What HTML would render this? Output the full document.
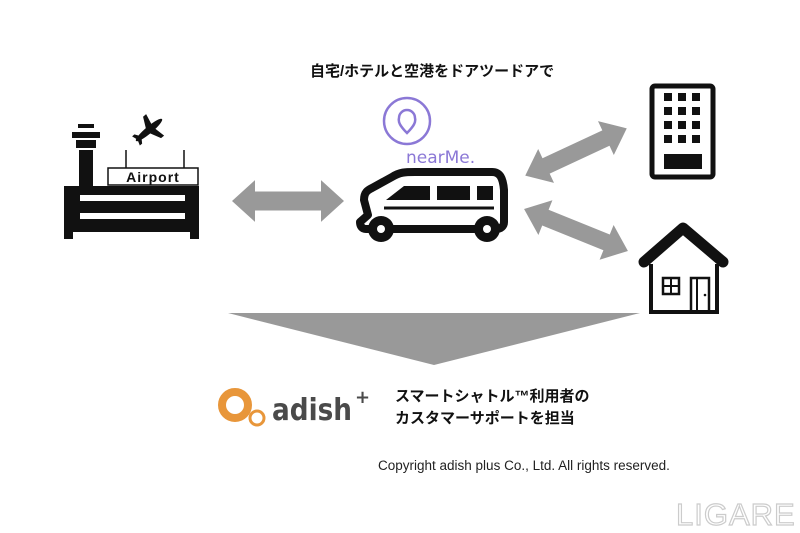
<!DOCTYPE html>
<html><head><meta charset="utf-8"><style>
html,body{margin:0;padding:0;background:#fff;}
body{width:800px;height:533px;position:relative;overflow:hidden;font-family:"Liberation Sans","Noto Sans CJK JP",sans-serif;}
.t{position:absolute;white-space:nowrap;}
</style></head><body>
<svg width="800" height="533" style="position:absolute;left:0;top:0">
<defs>
<path id="da" d="M-56,0 L-33,-22 L-33,-10 L33,-10 L33,-22 L56,0 L33,22 L33,10 L-33,10 L-33,22 Z" fill="#999"/>
</defs>
<!-- airport -->
<rect x="78" y="124" width="16" height="4" fill="#111"/>
<rect x="72" y="132" width="28" height="6" fill="#111"/>
<rect x="76" y="140" width="20" height="8" fill="#111"/>
<rect x="79" y="150" width="14" height="40" fill="#111"/>
<rect x="64" y="186" width="135" height="46" fill="#111"/>
<rect x="64" y="230" width="9" height="9" fill="#111"/>
<rect x="190" y="230" width="9" height="9" fill="#111"/>
<rect x="80" y="195" width="105" height="6" fill="#fff"/>
<rect x="80" y="213" width="105" height="6" fill="#fff"/>
<rect x="108" y="168" width="90" height="17" fill="#fff" stroke="#111" stroke-width="1.5"/>
<line x1="126" y1="150" x2="126" y2="168" stroke="#111" stroke-width="1.5"/>
<line x1="184" y1="150" x2="184" y2="168" stroke="#111" stroke-width="1.5"/>
<text x="153" y="182" font-family="Liberation Sans" font-size="14" font-weight="bold" text-anchor="middle" letter-spacing="1" fill="#111">Airport</text>
<g transform="translate(149,130) rotate(-40)" fill="#111">
<ellipse cx="0" cy="0" rx="17" ry="3.5"/>
<path d="M-3,0 L4,-14 L8,-14 L5,0 Z"/><path d="M-3,0 L4,14 L8,14 L5,0 Z"/>
<path d="M-15,0 L-17,-6 L-14,-6 L-10,0 Z"/><path d="M-15,0 L-17,6 L-14,6 L-10,0 Z"/>
</g>
<!-- arrows -->
<use href="#da" transform="translate(288,201) scale(1,0.95)"/>
<use href="#da" transform="translate(576,152) rotate(-25) scale(1,0.85)"/>
<use href="#da" transform="translate(576,230) rotate(22) scale(1,0.85)"/>
<!-- nearMe -->
<circle cx="407" cy="121" r="23" fill="none" stroke="#8b78d6" stroke-width="2.5"/>
<path d="M407,133 C400,126 398,122 399,118 A8,8 0 1 1 415,118 C416,122 414,126 407,133 Z" fill="none" stroke="#8b78d6" stroke-width="2.5"/>
<text x="406" y="163" font-size="17" fill="#8b78d6" font-family="DejaVu Sans">nearMe.</text>
<!-- van -->
<path d="M368,215 L364,200 C364,192 368,190 372,188 L392,177 C400,172 405,172 415,172 L492,172 C500,172 503,178 504,190 L504,222 C504,226 501,229 496,229 L366,229 C362,229 360,226 360,222 Z" fill="#fff" stroke="#111" stroke-width="8" stroke-linejoin="round"/>
<path d="M386,200 L404,186 L430,186 L430,200 Z" fill="#111"/>
<rect x="437" y="186" width="33" height="14" fill="#111"/>
<rect x="477" y="186" width="16" height="14" fill="#111"/>
<line x1="384" y1="208" x2="494" y2="208" stroke="#111" stroke-width="3"/>
<circle cx="381" cy="229" r="13" fill="#111"/><circle cx="381" cy="229" r="4" fill="#fff"/>
<circle cx="487" cy="229" r="13" fill="#111"/><circle cx="487" cy="229" r="4" fill="#fff"/>
<!-- building -->
<rect x="652" y="86" width="61" height="91" rx="3" fill="#fff" stroke="#111" stroke-width="5"/>
<g fill="#111">
<rect x="664" y="93" width="8" height="8"/><rect x="678" y="93" width="8" height="8"/><rect x="692" y="93" width="8" height="8"/>
<rect x="664" y="107" width="8" height="8"/><rect x="678" y="107" width="8" height="8"/><rect x="692" y="107" width="8" height="8"/>
<rect x="664" y="121" width="8" height="8"/><rect x="678" y="121" width="8" height="8"/><rect x="692" y="121" width="8" height="8"/>
<rect x="664" y="135" width="8" height="8"/><rect x="678" y="135" width="8" height="8"/><rect x="692" y="135" width="8" height="8"/>
<rect x="664" y="154" width="38" height="15"/>
</g>
<!-- house -->
<path d="M644,262 L683,228 L723,262" fill="none" stroke="#111" stroke-width="11" stroke-linecap="round" stroke-linejoin="round"/>
<path d="M651,264 L651,312 L717,312 L717,264" fill="none" stroke="#111" stroke-width="4"/>
<rect x="663" y="278" width="16" height="16" fill="none" stroke="#111" stroke-width="2.5"/>
<line x1="671" y1="278" x2="671" y2="294" stroke="#111" stroke-width="2"/>
<line x1="663" y1="286" x2="679" y2="286" stroke="#111" stroke-width="2"/>
<rect x="691" y="278" width="18" height="34" fill="none" stroke="#111" stroke-width="2.5"/>
<line x1="697" y1="278" x2="697" y2="312" stroke="#111" stroke-width="2"/>
<circle cx="705" cy="295" r="1.3" fill="#111"/>
<!-- big triangle -->
<polygon points="228,313 640,313 434,365" fill="#999"/>
<!-- adish -->
<circle cx="235" cy="405" r="13" fill="none" stroke="#e8963a" stroke-width="8"/>
<circle cx="257" cy="418" r="7" fill="#fff" stroke="#e8963a" stroke-width="3"/>
<text x="272" y="420" font-size="30" fill="#4a4a4a" font-family="DejaVu Sans" font-weight="bold" textLength="80" lengthAdjust="spacingAndGlyphs">adish</text>
<text x="355" y="403" font-size="18" font-weight="bold" fill="#4a4a4a" font-family="DejaVu Sans">+</text>
</svg>
<div class="t" style="left:310px;top:60px;font-size:15px;font-weight:bold;color:#111;">自宅/ホテルと空港をドアツードアで</div>
<div class="t" style="left:395px;top:386px;font-size:15px;font-weight:bold;color:#111;line-height:22px;">スマートシャトル™利用者の<br>カスタマーサポートを担当</div>
<div class="t" style="left:378px;top:458px;font-size:13.5px;color:#222;">Copyright adish plus Co., Ltd. All rights reserved.</div>
<div class="t" style="left:676px;top:497px;font-size:31px;color:#fff;-webkit-text-stroke:1.2px #ccc;letter-spacing:1px;">LIGARE</div>
</body></html>
